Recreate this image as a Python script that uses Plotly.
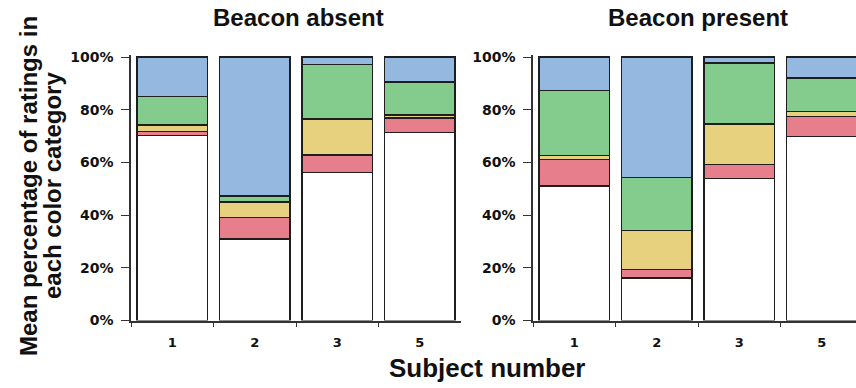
import plotly.graph_objects as go

# Subjects shown on the x axis
subjects = ["1", "2", "3", "5"]

# Mean percentage of ratings per colour category (stack order: bottom to top)
absent_white = [70.2, 31.0, 56.1, 71.4]
absent_red = [1.5, 8.2, 6.7, 5.4]
absent_yellow = [2.5, 5.7, 13.7, 1.2]
absent_green = [10.8, 2.3, 20.6, 12.5]
absent_blue = [15.0, 52.8, 2.9, 9.5]

present_white = [51.1, 16.2, 53.8, 69.9]
present_red = [10.1, 3.1, 5.3, 7.6]
present_yellow = [1.5, 14.8, 15.4, 1.8]
present_green = [24.5, 20.1, 23.2, 12.7]
present_blue = [12.8, 45.8, 2.3, 8.0]

y_ticks = [0, 20, 40, 60, 80, 100]
y_tick_text = ["0%", "20%", "40%", "60%", "80%", "100%"]

colors = {
    "white": "#ffffff",
    "red": "#e67f8b",
    "yellow": "#e8d17e",
    "green": "#84cb8e",
    "blue": "#94b8df",
}

W, H = 856, 388
OUTLINE = "#1e1e1e"


def px_x(p):
    return p / W


def px_y(p):
    return (H - p) / H


fig = go.Figure()

panels = [
    ("x", "y", [absent_white, absent_red, absent_yellow, absent_green, absent_blue]),
    ("x2", "y2", [present_white, present_red, present_yellow, present_green, present_blue]),
]
names = ["white", "red", "yellow", "green", "blue"]

for xa, ya, series in panels:
    for name, vals in zip(names, series):
        fig.add_trace(go.Bar(
            x=subjects, y=vals, name=name, xaxis=xa, yaxis=ya,
            marker=dict(color=colors[name], line=dict(color=OUTLINE, width=1.4)),
            showlegend=False, hoverinfo="skip",
        ))

y_top = 100.8
y0_px, y100_px = 320.5, 57.0
top_px = y0_px - (y0_px - y100_px) * y_top / 100
y_domain = [px_y(y0_px), px_y(top_px)]

tick_font = dict(family="DejaVu Sans", size=13, color="#111", weight="bold")
ytick_font = dict(family="DejaVu Sans", size=14, color="#111", weight="bold")

common_x = dict(
    type="category", tickson="boundaries", ticks="outside", ticklen=5,
    tickcolor="#333", tickwidth=1.2, showline=True, linecolor="#333", linewidth=1.5,
    showgrid=False, zeroline=False, tickfont=tick_font, ticklabelstandoff=9,
    automargin=False, fixedrange=True,
)
common_y = dict(
    range=[0, y_top], tickvals=y_ticks, ticktext=y_tick_text, ticks="outside",
    ticklen=8, tickcolor="#333", tickwidth=1.2, showline=True, linecolor="#333",
    linewidth=1.5, showgrid=False, zeroline=False, tickfont=ytick_font,
    ticklabelstandoff=5, domain=y_domain, automargin=False, fixedrange=True,
)

cat_w = (461 - 131) / 4
fig.update_layout(
    width=W, height=H, margin=dict(l=0, r=0, t=0, b=0, autoexpand=False),
    paper_bgcolor="white", plot_bgcolor="white",
    barmode="stack", bargap=0.15,
    xaxis=dict(common_x, domain=[px_x(131), px_x(461)], range=[-0.5, 3.5], anchor="y"),
    yaxis=dict(common_y, anchor="x"),
    xaxis2=dict(common_x, domain=[px_x(533), 1.0],
                range=[-0.5, -0.5 + (W - 533) / cat_w], anchor="y2"),
    yaxis2=dict(common_y, anchor="x2"),
)

title_font = dict(family="Liberation Sans, Arial", size=24, color="#111", weight="bold")
annotations = [
    dict(text="Beacon absent", x=px_x(298), y=px_y(18), font=title_font),
    dict(text="Beacon present", x=px_x(698), y=px_y(18), font=title_font),
    dict(text="Subject number", x=px_x(487), y=px_y(368),
         font=dict(title_font, size=26)),
    dict(text="Mean percentage of ratings in", x=px_x(29), y=px_y(186),
         textangle=-90, font=dict(title_font, size=24)),
    dict(text="each color category", x=px_x(53), y=px_y(186),
         textangle=-90, font=dict(title_font, size=24)),
]
for a in annotations:
    a.update(xref="paper", yref="paper", showarrow=False,
             xanchor="center", yanchor="middle")
fig.update_layout(annotations=annotations)

fig.write_html("out.html")
